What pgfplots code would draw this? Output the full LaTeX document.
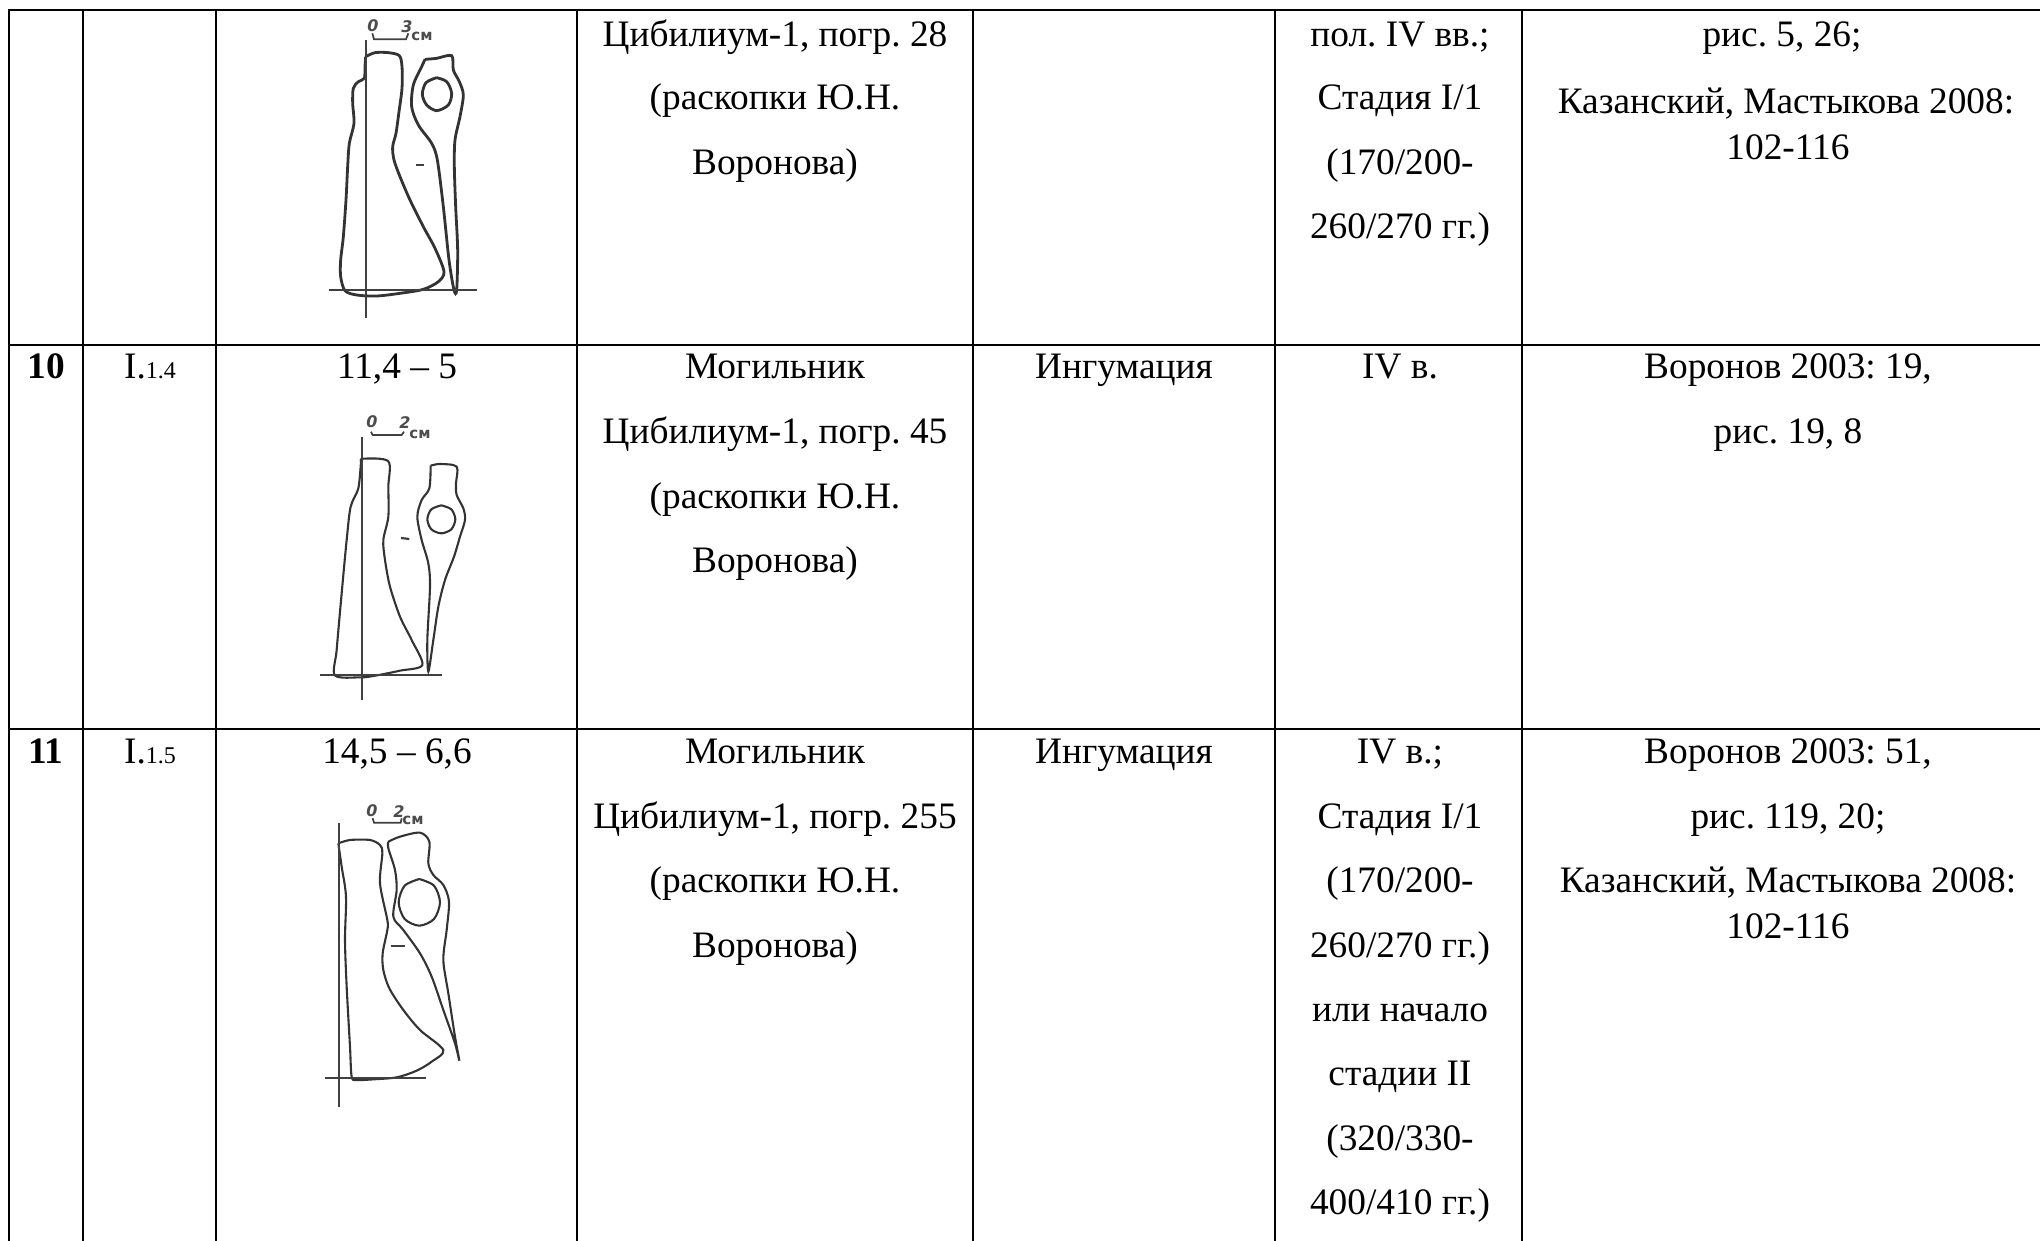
\documentclass[border=0pt]{standalone}
\usepackage{pgfplots}
\pgfplotsset{compat=1.18}
\usepackage{fontspec}
\setmainfont{Liberation Serif}
\newfontfamily\hand{DejaVu Sans}
\frenchspacing
\pgfplotsset{
  grid line/.style={black,line width=1.35pt,forget plot},
  pen/.style={black!80,line width=1.05pt,smooth,tension=0.5,forget plot},
  thin pen/.style={black!75,line width=0.85pt,forget plot},
  table/da/.style={x expr=\thisrowno{0}/3+300,y expr=\thisrowno{1}/3+0,header=false},
  table/db/.style={x expr=\thisrowno{0}/3+300,y expr=\thisrowno{1}/3+400,header=false},
  table/dc/.style={x expr=\thisrowno{0}/3+300,y expr=\thisrowno{1}/3+780,header=false},
}
\newcommand{\T}[3]{\node[anchor=base,inner sep=0pt,font=\fontsize{18.67}{18.67}\selectfont] at (axis cs:#1,#2) {#3};}
\newcommand{\D}[3]{\node[font=\bfseries\itshape\hand\fontsize{8}{8}\selectfont,text=black!70,inner sep=0pt] at (axis cs:#1,#2) {#3};}
\newcommand{\C}[2]{\node[font=\bfseries\hand\fontsize{7.5}{7.5}\selectfont,text=black!70,inner sep=0pt] at (axis cs:#1,#2) {см};}
\begin{document}
\begin{tikzpicture}
\path[use as bounding box] (0,0) rectangle (1020pt,620.5pt);
\begin{axis}[at={(0,0)},anchor=south west,scale only axis,width=1020pt,height=620.5pt,
  xmin=0,xmax=2040,ymin=0,ymax=1241,y dir=reverse,hide axis,clip=false]
% table rules
\addplot[grid line] coordinates {(8,10) (2040,10)};
\addplot[grid line] coordinates {(8,345) (2040,345)};
\addplot[grid line] coordinates {(8,729) (2040,729)};
\addplot[grid line] coordinates {(9,10) (9,1241)};
\addplot[grid line] coordinates {(83,10) (83,1241)};
\addplot[grid line] coordinates {(216,10) (216,1241)};
\addplot[grid line] coordinates {(577,10) (577,1241)};
\addplot[grid line] coordinates {(973,10) (973,1241)};
\addplot[grid line] coordinates {(1275,10) (1275,1241)};
\addplot[grid line] coordinates {(1522,10) (1522,1241)};
% drawing 1
\addplot[pen,line width=1.4pt] table[da] {
197 170
225 158
265 158
298 167
306 200
306 265
297 335
288 400
278 440
282 480
300 530
330 600
370 680
405 745
432 815
415 845
370 868
300 880
230 888
170 885
135 872
122 830
122 780
130 710
138 600
143 500
148 430
162 370
158 310
160 265
175 245
193 235
195 200
197 170
};
\addplot[pen,line width=1.4pt] table[da] {
375 178
410 175
455 167
460 210
478 245
490 285
480 350
465 420
463 500
467 620
473 750
470 870
462 870
447 780
430 620
412 480
395 430
355 375
335 320
340 255
365 200
375 178
};
\addplot[pen,line width=1.4pt] table[da] {
410 233
440 245
455 280
445 315
410 332
380 315
367 283
378 248
410 233
};
\addplot[thin pen] table[da] {
197 120
197 955
};
\addplot[thin pen] table[da] {
88 870
530 870
};
\addplot[thin pen,line width=1.1pt] table[da] {
348 494
372 494
};
\addplot[thin pen] table[da] {
217 100
222 118
318 118
325 100
};
% drawing 2
\addplot[pen] table[db] {
183 185
190 176
265 184
265 260
265 350
250 420
255 480
270 560
300 650
335 720
367 795
300 812
220 828
180 832
105 826
110 750
125 580
140 420
152 320
175 265
183 185
};
\addplot[pen] table[db] {
392 197
420 192
470 200
468 250
470 285
490 325
495 360
480 410
462 470
435 540
415 620
400 720
385 815
382 720
390 560
385 490
365 420
352 350
365 300
388 265
392 197
};
\addplot[pen] table[db] {
424 316
454 328
466 358
454 388
424 400
394 388
382 358
394 328
424 316
};
\addplot[thin pen] table[db] {
187 112
187 900
};
\addplot[thin pen] table[db] {
60 825
425 825
};
\addplot[thin pen,line width=1.1pt] table[db] {
303 414
328 417
};
\addplot[thin pen] table[db] {
213 95
218 105
305 105
312 95
};
% drawing 3
\addplot[pen] table[dc] {
115 190
150 180
210 180
240 195
247 220
240 310
262 420
262 450
248 520
250 570
268 625
310 690
360 750
430 810
395 845
350 872
290 892
220 898
170 900
155 890
150 800
140 620
135 480
138 350
125 260
115 190
};
\addplot[pen] table[dc] {
265 185
300 170
360 158
388 185
385 250
400 285
430 315
447 365
440 450
430 540
445 640
465 770
478 842
465 790
430 690
395 590
360 520
310 450
280 410
290 330
285 270
265 205
265 185
};
\addplot[pen] table[dc] {
358 297
402 317
420 367
402 417
358 437
314 417
296 367
314 317
358 297
};
\addplot[thin pen] table[dc] {
116 130
116 980
};
\addplot[thin pen] table[dc] {
75 893
378 893
};
\addplot[thin pen,line width=1.1pt] table[dc] {
273 497
315 497
};
\addplot[thin pen] table[dc] {
218 115
222 128
302 128
305 115
};
% scale-bar lettering
\D{373}{26}{0}
\D{407}{27}{3}
\C{422}{36}
\D{372}{422}{0}
\D{405}{423}{2}
\C{420}{434}
\D{372}{811}{0}
\D{399}{812}{2}
\C{413}{820}
% row 9
\T{775}{47}{Цибилиум-1, погр. 28}
\T{775}{110}{(раскопки Ю.Н.}
\T{775}{175}{Воронова)}
\T{1400}{47}{пол. IV вв.;}
\T{1400}{110}{Стадия I/1}
\T{1400}{175}{(170/200-}
\T{1400}{239}{260/270 гг.)}
\T{1782}{47}{рис. 5, 26;}
\T{1786}{114}{Казанский, Мастыкова 2008:}
\T{1788}{160}{102-116}
% row 10
\node[anchor=base,inner sep=0pt,font=\fontsize{18.67}{18.67}\selectfont\bfseries] at (axis cs:46,379) {10};
\node[anchor=base,inner sep=0pt,font=\fontsize{18.67}{18.67}\selectfont] at (axis cs:150,379) {I.{\fontsize{12}{12}\selectfont 1.4}};
\T{397}{379}{11,4 – 5}
\T{775}{379}{Могильник}
\T{775}{444}{Цибилиум-1, погр. 45}
\T{775}{509}{(раскопки Ю.Н.}
\T{775}{572}{Воронова)}
\T{1124}{379}{Ингумация}
\T{1400}{379}{IV в.}
\T{1788}{379}{Воронов 2003: 19,}
\T{1788}{444}{рис. 19, 8}
% row 11
\node[anchor=base,inner sep=0pt,font=\fontsize{18.67}{18.67}\selectfont\bfseries] at (axis cs:46,763) {11};
\node[anchor=base,inner sep=0pt,font=\fontsize{18.67}{18.67}\selectfont] at (axis cs:150,763) {I.{\fontsize{12}{12}\selectfont 1.5}};
\T{397}{763}{14,5 – 6,6}
\T{775}{763}{Могильник}
\T{775}{828}{Цибилиум-1, погр. 255}
\T{775}{892}{(раскопки Ю.Н.}
\T{775}{957}{Воронова)}
\T{1124}{763}{Ингумация}
\T{1400}{763}{IV в.;}
\T{1400}{828}{Стадия I/1}
\T{1400}{892}{(170/200-}
\T{1400}{957}{260/270 гг.)}
\T{1400}{1021}{или начало}
\T{1400}{1085}{стадии II}
\T{1400}{1150}{(320/330-}
\T{1400}{1214}{400/410 гг.)}
\T{1788}{763}{Воронов 2003: 51,}
\T{1788}{828}{рис. 119, 20;}
\T{1788}{892}{Казанский, Мастыкова 2008:}
\T{1788}{938}{102-116}
\end{axis}
\end{tikzpicture}
\end{document}
